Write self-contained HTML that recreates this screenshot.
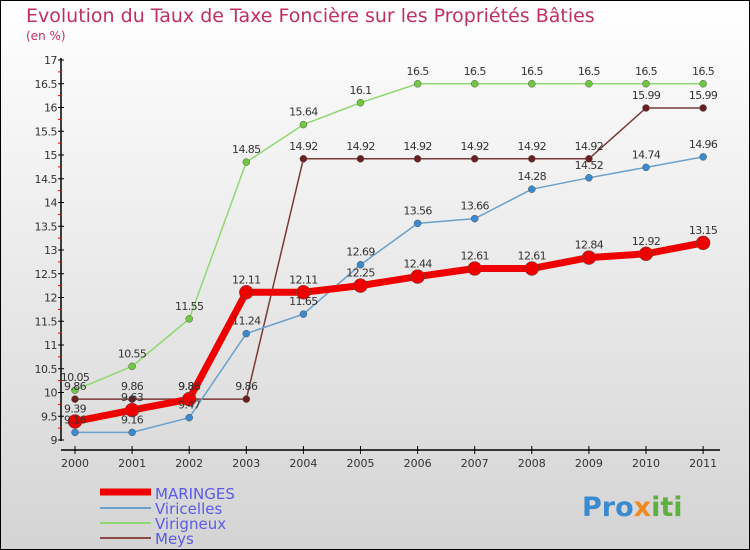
<!DOCTYPE html>
<html><head><meta charset="utf-8"><style>
body{margin:0}
svg{display:block;font-family:"DejaVu Sans","Liberation Sans",sans-serif}
</style></head><body>
<svg id="c" width="750" height="550" viewBox="0 0 750 550">
<defs><linearGradient id="bg" x1="0" y1="0" x2="0" y2="1"><stop offset="0" stop-color="#ffffff"/><stop offset="1" stop-color="#d4d4d4"/></linearGradient></defs>
<rect x="0.5" y="0.5" width="749" height="549" fill="url(#bg)" stroke="#000"/>
<text x="26" y="22" font-size="19" fill="#c0305e">Evolution du Taux de Taxe Foncière sur les Propriétés Bâties</text>
<text x="26" y="40" font-size="12" fill="#c0305e">(en %)</text>
<g id="axes"></g><g id="series"></g><g id="labels"></g>
<g>
<line x1="100" y1="492" x2="151" y2="492" stroke="#e00" stroke-width="7"/>
<text x="155" y="499" font-size="15" fill="#5a5ae8">MARINGES</text>
<line x1="100" y1="508" x2="151" y2="508" stroke="#6aa0cc" stroke-width="2"/>
<text x="155" y="514" font-size="15" fill="#5a5ae8">Viricelles</text>
<line x1="100" y1="523" x2="151" y2="523" stroke="#90d870" stroke-width="2"/>
<text x="155" y="529" font-size="15" fill="#5a5ae8">Virigneux</text>
<line x1="100" y1="538" x2="151" y2="538" stroke="#8a4a4a" stroke-width="2"/>
<text x="155" y="544" font-size="15" fill="#5a5ae8">Meys</text>
</g>
<text x="582" y="516" font-size="27" font-weight="bold" fill="#3a8ad0">Pro<tspan fill="#f08a20">x</tspan><tspan fill="#60b040">iti</tspan></text>
</svg>
<script>
const years=[2000,2001,2002,2003,2004,2005,2006,2007,2008,2009,2010,2011];
const maringes=[9.39,9.63,9.86,12.11,12.11,12.25,12.44,12.61,12.61,12.84,12.92,13.15];
const viricelles=[9.16,9.16,9.47,11.24,11.65,12.69,13.56,13.66,14.28,14.52,14.74,14.96];
const virigneux=[10.05,10.55,11.55,14.85,15.64,16.1,16.5,16.5,16.5,16.5,16.5,16.5];
const meys=[9.86,9.86,9.86,9.86,14.92,14.92,14.92,14.92,14.92,14.92,15.99,15.99];
const yTicks=[9,9.5,10,10.5,11,11.5,12,12.5,13,13.5,14,14.5,15,15.5,16,16.5,17];
const NS='http://www.w3.org/2000/svg';
const xs=i=>75+i*57.1;
const ys=v=>440-(v-9)*47.5;
function mk(t,a,p){const e=document.createElementNS(NS,t);for(const k in a)e.setAttribute(k,a[k]);p.appendChild(e);return e;}
const ax=document.getElementById('axes');
let e=mk('line',{x1:61,y1:58,x2:61,y2:441,stroke:'#000','stroke-width':1.5},ax);


e=mk('line',{x1:61,y1:450,x2:720,y2:450,stroke:'#000','stroke-width':1.5},ax);


yTicks.forEach((v,i)=>{
  mk('line',{x1:58,y1:ys(v),x2:64,y2:ys(v),stroke:'#000'},ax);
  if(i<yTicks.length-1)mk('line',{x1:58,y1:ys(v+0.25),x2:62,y2:ys(v+0.25),stroke:'#e00'},ax);
  const t=mk('text',{x:57,y:ys(v)+4,'font-size':11,fill:'#333','text-anchor':'end','letter-spacing':'-0.5'},ax);
  t.textContent=String(v);
  
  
});
years.forEach((y,i)=>{
  mk('line',{x1:xs(i),y1:446,x2:xs(i),y2:454,stroke:'#000'},ax);
  const t=mk('text',{x:xs(i),y:467,'font-size':11,fill:'#333','text-anchor':'middle'},ax);
  t.textContent=String(y);
  
  
});
const sg=document.getElementById('series'),lg=document.getElementById('labels');
function series(name,data,col,dot,w,r){
  const g=mk('g',{},sg);
  
  
  mk('polyline',{points:data.map((v,i)=>xs(i)+','+ys(v)).join(' '),fill:'none',stroke:col,'stroke-width':w,'stroke-linejoin':'round'},g);
  data.forEach((v,i)=>{
    const c=mk('circle',{cx:xs(i),cy:ys(v),r:r,fill:dot,stroke:'#555','stroke-width':0.5},g);
    
    
    const t=mk('text',{x:xs(i),y:ys(v)-9,'font-size':11,fill:'#333','text-anchor':'middle','letter-spacing':'-0.6'},lg);
    t.textContent=String(v);
    
    
  });
}
series('virigneux',virigneux,'#90d870','#70c840',1.5,3.5);
series('meys',meys,'#7a3a3a','#6a2020',1.5,3.5);
series('viricelles',viricelles,'#6aa0cc','#3a8ad0',1.5,3.5);
series('maringes',maringes,'#e00','#e00',7,7);
</script>
</body></html>
